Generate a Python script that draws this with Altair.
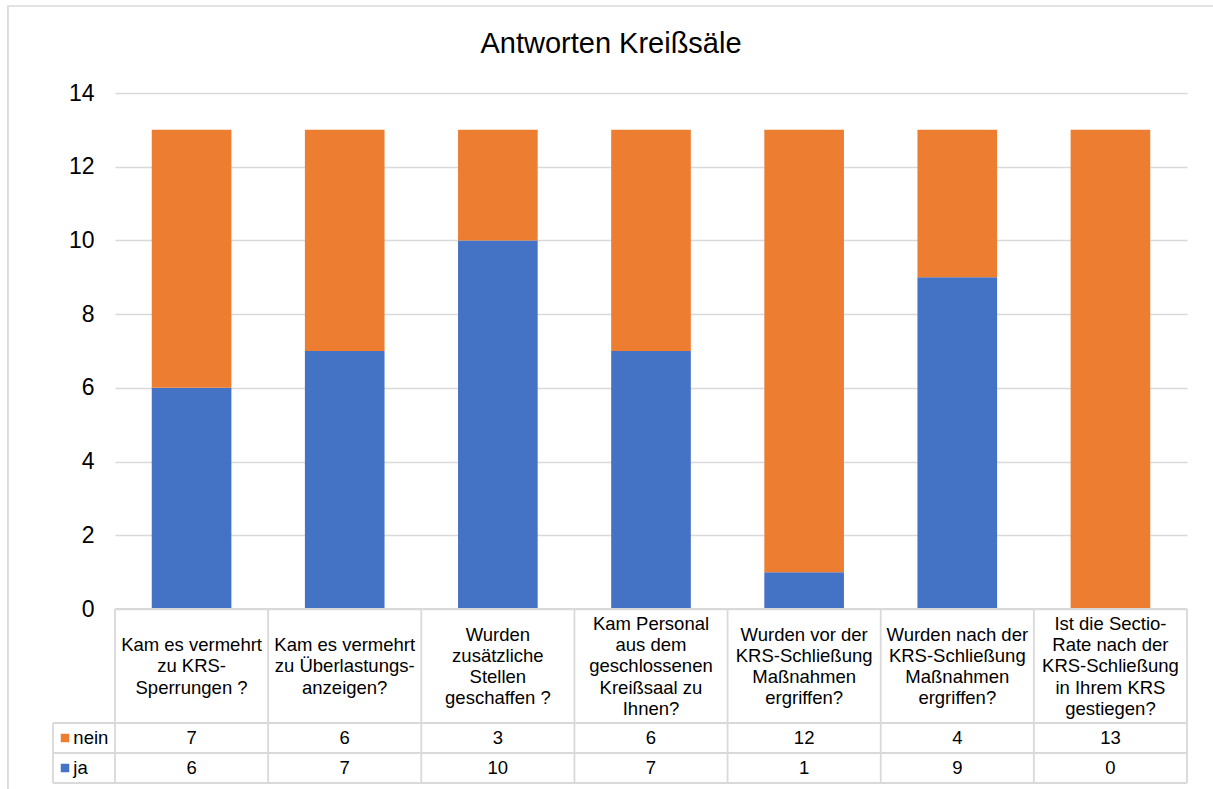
import altair as alt
import pandas as pd

# ---------------- data ----------------
title_text = "Antworten Kreißsäle"
categories = [
    ["Kam es vermehrt", "zu KRS-", "Sperrungen ?"],
    ["Kam es vermehrt", "zu Überlastungs-", "anzeigen?"],
    ["Wurden", "zusätzliche", "Stellen", "geschaffen ?"],
    ["Kam Personal", "aus dem", "geschlossenen", "Kreißsaal zu", "Ihnen?"],
    ["Wurden vor der", "KRS-Schließung", "Maßnahmen", "ergriffen?"],
    ["Wurden nach der", "KRS-Schließung", "Maßnahmen", "ergriffen?"],
    ["Ist die Sectio-", "Rate nach der", "KRS-Schließung", "in Ihrem KRS", "gestiegen?"],
]
nein = [7, 6, 3, 6, 12, 4, 13]
ja = [6, 7, 10, 7, 1, 9, 0]
series_names = ["nein", "ja"]
series_colors = ["#ED7D31", "#4472C4"]
y_ticks = [0, 2, 4, 6, 8, 10, 12, 14]

# ---------------- layout constants ----------------
FONT = "Liberation Sans"
GRID = "#d9d9d9"
n = len(categories)
PLOT_W, PLOT_H = 1072, 516
PX_PER_UNIT = PLOT_H / 14.0
LINE_H = 21.3
BAR_HALF = 0.26          # half bar width in column units
HEADER_MID = -1.56       # table header centre (value units below 0)
HEADER_BOTTOM = -3.093
ROW_SPLIT = -3.907
TABLE_BOTTOM = -4.721
ROW_Y = {"nein": -3.5, "ja": -4.314}
LEFT_COL = -0.405
LEG_SQ_X = -0.3265
LEG_TXT_X = -0.272

xscale = alt.Scale(domain=[0, n], nice=False, zero=False)
yscale = alt.Scale(domain=[0, 14], nice=False, zero=False)
yaxis = alt.Axis(values=y_ticks, title=None, domain=False, ticks=False, grid=True,
                 gridColor=GRID, gridWidth=1.3, labelFont=FONT, labelFontSize=23,
                 labelColor="#000000", labelPadding=21)
cscale = alt.Scale(domain=series_names, range=series_colors)


def X(f):
    return alt.X(f, type="quantitative", scale=xscale, axis=None)


def Y(f):
    return alt.Y(f, type="quantitative", scale=yscale, axis=yaxis)


# bars
bar_rows = []
for i in range(n):
    c = i + 0.5
    bar_rows.append(dict(s="ja", x0=c - BAR_HALF, x1=c + BAR_HALF, y0=0, y1=ja[i]))
    bar_rows.append(dict(s="nein", x0=c - BAR_HALF, x1=c + BAR_HALF, y0=ja[i], y1=ja[i] + nein[i]))
bars_df = pd.DataFrame(bar_rows)

bars = alt.Chart(bars_df).mark_bar().encode(
    x=X("x0"), x2="x1", y=Y("y0"), y2="y1",
    color=alt.Color("s:N", scale=cscale, legend=None),
)

# outer border
border_df = pd.DataFrame([dict(x0=-0.699, x1=7.4, y0=16.36, y1=-5.5)])
border = alt.Chart(border_df).mark_rect(fillOpacity=0, stroke=GRID, strokeWidth=1.7).encode(
    x=X("x0"), x2="x1", y=Y("y0"), y2="y1"
)

# table lines
hl = [dict(x0=0, x1=n, y0=0, y1=0)]
for yy in [HEADER_BOTTOM, ROW_SPLIT, TABLE_BOTTOM]:
    hl.append(dict(x0=LEFT_COL, x1=n, y0=yy, y1=yy))
hl.append(dict(x0=LEFT_COL, x1=LEFT_COL, y0=HEADER_BOTTOM, y1=TABLE_BOTTOM))
for k in range(n + 1):
    hl.append(dict(x0=k, x1=k, y0=0, y1=TABLE_BOTTOM))
lines_df = pd.DataFrame(hl)
lines = alt.Chart(lines_df).mark_rule(color=GRID, strokeWidth=1.8).encode(
    x=X("x0"), x2="x1", y=Y("y0"), y2="y1"
)

# header texts (first line placed so the block is vertically centred)
hdr_df = pd.DataFrame([
    dict(xc=i + 0.5,
         yc=HEADER_MID + (len(categories[i]) - 1) / 2 * LINE_H / PX_PER_UNIT,
         label=categories[i])
    for i in range(n)
])
header = alt.Chart(hdr_df).mark_text(
    font=FONT, fontSize=18.5, color="#000000", lineHeight=LINE_H, align="center", baseline="middle"
).encode(x=X("xc"), y=Y("yc"), text="label")

# values
val_rows = []
for i in range(n):
    val_rows.append(dict(xc=i + 0.5, yc=ROW_Y["nein"], v=str(nein[i])))
    val_rows.append(dict(xc=i + 0.5, yc=ROW_Y["ja"], v=str(ja[i])))
vals_df = pd.DataFrame(val_rows)
values = alt.Chart(vals_df).mark_text(
    font=FONT, fontSize=18.5, color="#000000", align="center", baseline="middle"
).encode(x=X("xc"), y=Y("yc"), text="v")

# legend column
leg_df = pd.DataFrame([dict(s=s, xs=LEG_SQ_X, xt=LEG_TXT_X, yc=ROW_Y[s]) for s in series_names])
leg_sq = alt.Chart(leg_df).mark_square(size=72, opacity=1).encode(
    x=X("xs"), y=Y("yc"), color=alt.Color("s:N", scale=cscale, legend=None)
)
leg_txt = alt.Chart(leg_df).mark_text(
    font=FONT, fontSize=18.5, color="#000000", align="left", baseline="middle"
).encode(x=X("xt"), y=Y("yc"), text="s")

chart = alt.layer(border, bars, lines, header, values, leg_sq, leg_txt).properties(
    width=PLOT_W,
    height=PLOT_H,
    autosize=alt.AutoSizeParams(type="none"),
    padding={"left": 115, "top": 93, "right": 26, "bottom": 180},
    title=alt.TitleParams(title_text, font=FONT, fontSize=29, fontWeight="normal",
                          color="#000000", anchor="middle", frame="group",
                          offset=0, baseline="alphabetic", dx=-40, dy=77),
    background="white",
).configure_view(strokeWidth=0)

chart.save("out.html", embed_options={"renderer": "svg", "actions": False})
